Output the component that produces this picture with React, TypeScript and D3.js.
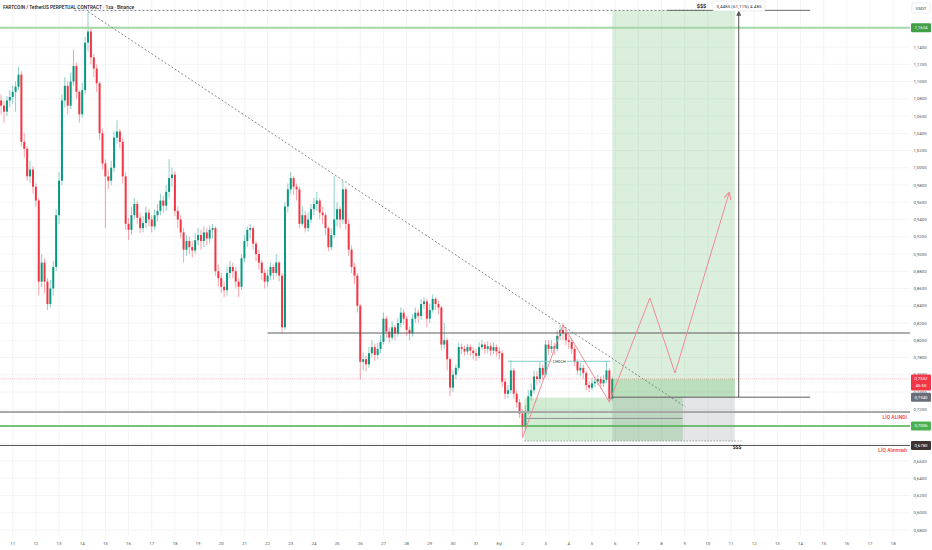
import React, { useEffect, useRef } from 'react';
import * as d3 from 'd3';

const W = 932;
const H = 550;

// 3h candles, first one centred on 10 Aug 12:00 UTC
const candleStart = Date.UTC(2025, 7, 10, 12);
const candleStep = 3 * 3600 * 1000;
const firstOpen = 1.078;

const closes = [
  1.072, 1.065, 1.078, 1.082, 1.088, 1.094, 1.108, 1.03, 1.022, 0.99,
  0.998, 0.978, 0.962, 0.868, 0.89, 0.868, 0.842, 0.86, 0.885, 0.945,
  0.985, 1.078, 1.095, 1.072, 1.1, 1.118, 1.088, 1.062, 1.09, 1.145,
  1.158, 1.128, 1.115, 1.098, 1.04, 1.005, 0.99, 0.985, 1.0, 1.035,
  1.042, 1.03, 0.99, 0.935, 0.928, 0.945, 0.958, 0.942, 0.93, 0.936,
  0.948, 0.94, 0.932, 0.945, 0.95, 0.962, 0.956, 0.972, 0.988, 0.992,
  0.95, 0.94, 0.925, 0.905, 0.915, 0.908, 0.904, 0.916, 0.922, 0.915,
  0.925, 0.918, 0.928, 0.93, 0.88, 0.872, 0.862, 0.858, 0.878, 0.885,
  0.88, 0.868, 0.862, 0.895, 0.915, 0.928, 0.93, 0.912, 0.9, 0.89,
  0.878, 0.868, 0.875, 0.885, 0.878, 0.89, 0.875, 0.815, 0.955, 0.975,
  0.988, 0.978, 0.975, 0.935, 0.945, 0.93, 0.94, 0.952, 0.958, 0.962,
  0.948, 0.945, 0.93, 0.908, 0.922, 0.94, 0.952, 0.94, 0.975, 0.935,
  0.905, 0.885, 0.875, 0.84, 0.775, 0.778, 0.772, 0.785, 0.792, 0.783,
  0.79, 0.798, 0.825, 0.81, 0.803, 0.815, 0.808, 0.82, 0.832, 0.825,
  0.812, 0.808, 0.825, 0.832, 0.828, 0.842, 0.845, 0.825, 0.835, 0.848,
  0.842, 0.838, 0.795, 0.8, 0.778, 0.745, 0.76, 0.768, 0.792, 0.79,
  0.787, 0.792, 0.788, 0.785, 0.782, 0.792, 0.795, 0.79, 0.793, 0.788,
  0.792, 0.787, 0.785, 0.752, 0.738, 0.742, 0.765, 0.738, 0.728, 0.715,
  0.7, 0.718, 0.735, 0.742, 0.758, 0.755, 0.768, 0.76, 0.795, 0.79,
  0.793, 0.79, 0.805, 0.812, 0.808, 0.8, 0.798, 0.79, 0.775, 0.765,
  0.768, 0.762, 0.748, 0.745, 0.75, 0.752, 0.755, 0.75, 0.754, 0.765,
  0.732, 0.7552,
];

const highs = [
  1.085, 1.078, 1.083, 1.09, 1.095, 1.1, 1.117, 1.112, 1.04, 1.025,
  1.008, 1.002, 0.982, 0.965, 0.9, 0.895, 0.872, 0.87, 0.892, 0.952,
  0.995, 1.085, 1.105, 1.1, 1.11, 1.137, 1.122, 1.09, 1.098, 1.152,
  1.181, 1.162, 1.132, 1.12, 1.1, 1.045, 1.01, 0.998, 1.008, 1.042,
  1.055, 1.045, 1.035, 0.995, 0.942, 0.955, 0.965, 0.962, 0.948, 0.944,
  0.955, 0.952, 0.945, 0.952, 0.958, 0.97, 0.968, 0.98, 1.01, 1.0,
  0.996, 0.955, 0.945, 0.93, 0.922, 0.92, 0.915, 0.924, 0.93, 0.928,
  0.932, 0.93, 0.933, 0.935, 0.932, 0.888, 0.878, 0.868, 0.885, 0.892,
  0.89, 0.885, 0.872, 0.9, 0.922, 0.932, 0.935, 0.932, 0.915, 0.905,
  0.893, 0.882, 0.882, 0.89, 0.888, 0.9, 0.892, 0.878, 0.96, 0.982,
  0.995, 0.99, 0.982, 0.978, 0.955, 0.95, 0.948, 0.958, 0.965, 0.972,
  0.965, 0.955, 0.948, 0.932, 0.93, 0.99, 0.96, 0.955, 0.985, 0.978,
  0.94, 0.91, 0.89, 0.878, 0.842, 0.786, 0.782, 0.792, 0.8, 0.796,
  0.797, 0.806, 0.832, 0.828, 0.815, 0.822, 0.818, 0.826, 0.838, 0.836,
  0.828, 0.816, 0.83, 0.838, 0.836, 0.848, 0.85, 0.848, 0.842, 0.853,
  0.85, 0.846, 0.84, 0.82, 0.803, 0.78, 0.765, 0.772, 0.797, 0.796,
  0.794, 0.796, 0.795, 0.792, 0.79, 0.798, 0.8, 0.798, 0.799, 0.797,
  0.798, 0.795, 0.792, 0.788, 0.756, 0.748, 0.777, 0.768, 0.742, 0.732,
  0.72, 0.725, 0.742, 0.75, 0.765, 0.764, 0.775, 0.772, 0.8, 0.8,
  0.8, 0.797, 0.811, 0.818, 0.82, 0.812, 0.805, 0.802, 0.793, 0.778,
  0.774, 0.772, 0.765, 0.752, 0.756, 0.757, 0.76, 0.758, 0.76, 0.776,
  0.768, 0.758,
];

const lows = [
  1.062, 1.052, 1.06, 1.07, 1.074, 1.065, 1.09, 1.025, 1.012, 0.985,
  0.982, 0.97, 0.955, 0.852, 0.862, 0.855, 0.835, 0.838, 0.852, 0.88,
  0.935, 0.98, 1.07, 1.062, 1.068, 1.095, 1.08, 1.052, 1.058, 1.085,
  1.135, 1.12, 1.105, 1.088, 1.032, 0.998, 0.93, 0.975, 0.98, 0.995,
  1.028, 1.022, 0.982, 0.928, 0.916, 0.922, 0.94, 0.935, 0.924, 0.925,
  0.93, 0.932, 0.925, 0.928, 0.938, 0.945, 0.948, 0.95, 0.965, 0.978,
  0.944, 0.93, 0.918, 0.89, 0.898, 0.9, 0.896, 0.9, 0.91, 0.905,
  0.908, 0.91, 0.912, 0.918, 0.875, 0.862, 0.855, 0.85, 0.852, 0.872,
  0.872, 0.86, 0.85, 0.858, 0.89, 0.908, 0.918, 0.905, 0.892, 0.882,
  0.87, 0.86, 0.862, 0.87, 0.87, 0.874, 0.868, 0.808, 0.812, 0.948,
  0.97, 0.968, 0.962, 0.93, 0.932, 0.925, 0.926, 0.936, 0.945, 0.95,
  0.94, 0.935, 0.922, 0.903, 0.904, 0.918, 0.932, 0.93, 0.935, 0.928,
  0.898, 0.878, 0.865, 0.832, 0.755, 0.765, 0.764, 0.768, 0.78, 0.776,
  0.778, 0.785, 0.795, 0.803, 0.797, 0.8, 0.8, 0.804, 0.815, 0.818,
  0.805, 0.8, 0.804, 0.82, 0.82, 0.824, 0.836, 0.815, 0.82, 0.832,
  0.835, 0.83, 0.788, 0.79, 0.765, 0.735, 0.74, 0.755, 0.765, 0.784,
  0.782, 0.783, 0.782, 0.778, 0.776, 0.779, 0.788, 0.784, 0.785, 0.782,
  0.784, 0.781, 0.778, 0.746, 0.732, 0.733, 0.738, 0.732, 0.722, 0.71,
  0.687, 0.695, 0.714, 0.73, 0.738, 0.748, 0.75, 0.754, 0.757, 0.783,
  0.785, 0.783, 0.787, 0.8, 0.8, 0.794, 0.79, 0.784, 0.77, 0.76,
  0.758, 0.755, 0.742, 0.74, 0.742, 0.745, 0.748, 0.744, 0.746, 0.75,
  0.728, 0.73,
];

const priceTicks = [
  0.58, 0.6, 0.62, 0.64, 0.66, 0.68, 0.7, 0.72, 0.74, 0.76, 0.78, 0.8, 0.82, 0.84, 0.86,
  0.88, 0.9, 0.92, 0.94, 0.96, 0.98, 1.0, 1.02, 1.04, 1.06, 1.08, 1.1, 1.12, 1.14,
];

// one label per day starting 11 Aug
const dayLabels = [
  '11', '12', '13', '14', '15', '16', '17', '18', '19', '20', '21', '22', '23', '24', '25',
  '26', '27', '28', '29', '30', '31', 'Eyl', '2', '3', '4', '5', '6', '7', '8', '9', '10',
  '11', '12', '13', '14', '15', '16', '17', '18',
];

// price levels drawn on the chart
const lastPrice = 0.7552;
const greenLevel = 1.1624;
const resistLevel = 0.8084;
const liqTakenLevel = 0.7168;
const innerLevel = 0.7094;
const liqGreenLevel = 0.7006;
const liqMissLevel = 0.678;
const chochLevel = 0.7756;

// long position tool
const entryPrice = 0.734;
const targetPrice = 1.1825;
const stopPrice = 0.6832;

const utc = (m: number, d: number, h = 0) => new Date(Date.UTC(2025, m, d, h));

const trendLine: [Date, number][] = [
  [utc(7, 14, 6), 1.181],
  [utc(8, 9, 1), 0.7226],
];

const zigzag: [Date, number][] = [
  [utc(8, 2, 0), 0.6867],
  [utc(8, 3, 18), 0.8177],
  [utc(8, 5, 18), 0.7284],
  [utc(8, 7, 12), 0.849],
  [utc(8, 8, 14), 0.762],
  [utc(8, 10, 22), 0.9707],
];

const fmt = (v: number) => d3.format('.4f')(v).replace('.', ',');

const App: React.FC = () => {
  const svgRef = useRef<SVGSVGElement>(null);

  useEffect(() => {
    if (!svgRef.current) return;
    const svg = d3.select(svgRef.current);
    svg.selectAll('*').remove();

    const font = 'Roboto, "Liberation Sans", sans-serif';
    const plotRight = 910;
    const plotBottom = 535;

    const x = d3.scaleUtc().domain([utc(7, 11), utc(8, 18)]).range([12.7, 893.2]);
    const y = d3.scaleLinear().domain([0.58, 1.14]).range([530, 47]);

    svg.append('rect').attr('width', W).attr('height', H).attr('fill', '#ffffff');

    const defs = svg.append('defs');
    defs.append('clipPath').attr('id', 'plot')
      .append('rect').attr('x', 0).attr('y', 0).attr('width', plotRight).attr('height', plotBottom);
    defs.append('marker').attr('id', 'arrowRed')
      .attr('viewBox', '0 0 8 8').attr('refX', 7).attr('refY', 4)
      .attr('markerWidth', 7).attr('markerHeight', 7).attr('markerUnits', 'userSpaceOnUse')
      .attr('orient', 'auto')
      .append('path').attr('d', 'M0,0 L8,4 L0,8').attr('fill', 'none')
      .attr('stroke', '#f28b95').attr('stroke-width', 1.2);
    defs.append('marker').attr('id', 'arrowGray')
      .attr('viewBox', '0 0 8 8').attr('refX', 7).attr('refY', 4)
      .attr('markerWidth', 5).attr('markerHeight', 5).attr('markerUnits', 'userSpaceOnUse')
      .attr('orient', 'auto')
      .append('path').attr('d', 'M0,0 L8,4 L0,8 Z').attr('fill', '#555');

    // grid
    const days = dayLabels.map((_, i) => new Date(Date.UTC(2025, 7, 11 + i)));
    const grid = svg.append('g');
    days.forEach(d => {
      grid.append('line')
        .attr('x1', x(d)).attr('x2', x(d)).attr('y1', 0).attr('y2', plotBottom)
        .attr('stroke', '#f3f4f6').attr('stroke-width', 1);
    });
    priceTicks.forEach(p => {
      grid.append('line')
        .attr('x1', 0).attr('x2', plotRight).attr('y1', y(p)).attr('y2', y(p))
        .attr('stroke', '#f3f4f6').attr('stroke-width', 1);
    });

    const plot = svg.append('g').attr('clip-path', 'url(#plot)');

    // candles
    const up = '#089981';
    const down = '#f23645';
    const candles = closes.map((c, i) => ({
      t: new Date(candleStart + i * candleStep),
      o: i === 0 ? firstOpen : closes[i - 1],
      h: highs[i],
      l: lows[i],
      c,
    }));
    const cg = plot.append('g');
    candles.forEach(k => {
      const col = k.c >= k.o ? up : down;
      const cx = x(k.t);
      cg.append('line')
        .attr('x1', cx).attr('x2', cx).attr('y1', y(k.h)).attr('y2', y(k.l))
        .attr('stroke', col).attr('stroke-opacity', 0.45).attr('stroke-width', 1);
      const top = y(Math.max(k.o, k.c));
      const hgt = Math.max(0.8, Math.abs(y(k.o) - y(k.c)));
      cg.append('rect')
        .attr('x', cx - 1).attr('width', 2).attr('y', top).attr('height', hgt)
        .attr('fill', col);
    });

    // long position boxes
    const posStart = utc(8, 5, 21);
    const posEnd = utc(8, 11, 4);
    const lineEnd = utc(8, 14, 10);
    plot.append('rect')
      .attr('x', x(posStart)).attr('width', x(posEnd) - x(posStart))
      .attr('y', y(targetPrice)).attr('height', y(entryPrice) - y(targetPrice))
      .attr('fill', 'rgba(76,175,80,0.2)');
    plot.append('rect')
      .attr('x', x(posStart)).attr('width', x(posEnd) - x(posStart))
      .attr('y', y(lastPrice)).attr('height', y(entryPrice) - y(lastPrice))
      .attr('fill', 'rgba(76,175,80,0.22)');
    plot.append('rect')
      .attr('x', x(posStart)).attr('width', x(posEnd) - x(posStart))
      .attr('y', y(entryPrice)).attr('height', y(stopPrice) - y(entryPrice))
      .attr('fill', 'rgba(120,123,134,0.2)');

    // liquidity box
    const boxStart = utc(8, 2, 2);
    const boxEnd = utc(8, 8, 22);
    plot.append('rect')
      .attr('x', x(boxStart)).attr('width', x(boxEnd) - x(boxStart))
      .attr('y', y(0.7335)).attr('height', y(0.6835) - y(0.7335))
      .attr('fill', 'rgba(76,175,80,0.25)');

    const hline = (p: number, x1: number, x2: number, color: string, w: number, dash?: string) => {
      const l = plot.append('line')
        .attr('x1', x1).attr('x2', x2).attr('y1', y(p)).attr('y2', y(p))
        .attr('stroke', color).attr('stroke-width', w);
      if (dash) l.attr('stroke-dasharray', dash);
      return l;
    };

    hline(greenLevel, 0, plotRight, '#a5d6a7', 2);
    hline(lastPrice, 0, plotRight, 'rgba(242,54,69,0.3)', 1, '1,1');
    hline(resistLevel, x(utc(7, 22)), plotRight, '#5d5d5d', 1);
    hline(liqTakenLevel, 0, plotRight, '#a8a8a8', 2);
    hline(innerLevel, x(boxStart), x(boxEnd), '#8f8f8f', 1);
    hline(liqGreenLevel, 0, plotRight, '#4caf50', 1.3);
    hline(stopPrice, x(boxStart), x(utc(8, 11, 11)), '#9a9a9a', 1, '1.5,1.5');
    hline(liqMissLevel, 0, plotRight, '#555555', 1);
    hline(entryPrice, x(posStart), x(lineEnd), '#5d5d5d', 1);
    hline(targetPrice, x(utc(7, 13, 16)), x(utc(8, 9, 23)), '#787b86', 1, '2,2');
    hline(targetPrice, x(utc(8, 8, 6)), x(lineEnd), '#6b6b6b', 1);

    // choch
    hline(chochLevel, x(utc(8, 1, 9)), x(utc(8, 5, 19)), '#80cbc4', 1);

    // vertical target arrow
    const vx = x(utc(8, 11, 8));
    plot.append('line')
      .attr('x1', vx).attr('x2', vx).attr('y1', y(entryPrice)).attr('y2', y(targetPrice) + 1)
      .attr('stroke', '#555').attr('stroke-width', 1)
      .attr('marker-end', 'url(#arrowGray)');

    // trend line
    plot.append('line')
      .attr('x1', x(trendLine[0][0])).attr('y1', y(trendLine[0][1]))
      .attr('x2', x(trendLine[1][0])).attr('y2', y(trendLine[1][1]))
      .attr('stroke', '#787b86').attr('stroke-width', 0.9).attr('stroke-dasharray', '2,2');

    // projected path
    const zz = d3.line<[Date, number]>().x(d => x(d[0])).y(d => y(d[1]));
    plot.append('path')
      .attr('d', zz(zigzag))
      .attr('fill', 'none').attr('stroke', '#f28b95').attr('stroke-width', 1)
      .attr('marker-end', 'url(#arrowRed)');

    const text = (tx: number, ty: number, s: string, size: number, color: string, anchor = 'start', weight = 'normal') =>
      svg.append('text')
        .attr('x', tx).attr('y', ty)
        .attr('font-family', font).attr('font-size', size).attr('fill', color)
        .attr('text-anchor', anchor).attr('font-weight', weight)
        .attr('dominant-baseline', 'central')
        .text(s);

    // choch label
    const chX = x(utc(8, 3, 14));
    svg.append('rect').attr('x', chX - 7.5).attr('y', y(chochLevel) - 2.5).attr('width', 15).attr('height', 5).attr('fill', '#fff');
    text(chX, y(chochLevel), 'CHOCH', 3.8, '#333', 'middle');

    // top labels
    text(701.5, 6, '$$$', 5.5, '#222', 'middle', 'bold');
    svg.append('rect').attr('x', 713).attr('y', 1).attr('width', 52).attr('height', 10)
      .attr('fill', '#fff').attr('stroke', '#e0e3eb').attr('stroke-width', 0.6).attr('rx', 1);
    text(739, 6, '0,4485 (61,11%) 4.485', 4.3, '#333', 'middle').attr('textLength', 45).attr('lengthAdjust', 'spacingAndGlyphs');
    text(737, y(liqMissLevel) + 1.5, '$$$', 5, '#222', 'middle', 'bold');

    // title
    text(3, 7, 'FARTCOIN / TetherUS PERPETUAL CONTRACT · 1sa · Binance', 5.6, '#131722', 'start', '500')
      .attr('textLength', 131).attr('lengthAdjust', 'spacingAndGlyphs');

    // liq labels
    text(907, 417, 'LİQ ALINDI', 5, '#f23645', 'end', '500');
    text(907, 450, 'LİQ Alınmadı', 5, '#f23645', 'end', '500');

    // price axis
    priceTicks.forEach(p => {
      text(913.5, y(p), fmt(p), 4.4, '#555', 'start');
    });
    svg.append('rect').attr('x', 912).attr('y', 3).attr('width', 18).attr('height', 10)
      .attr('fill', '#fff').attr('stroke', '#e0e3eb').attr('stroke-width', 0.6).attr('rx', 1);
    text(921, 8, 'USDT', 4.2, '#333', 'middle');

    const tag = (p: number, fill: string, lines: string[]) => {
      const hgt = lines.length === 1 ? 9 : 16;
      const cy = y(p) + (lines.length === 1 ? 0 : 3.5);
      svg.append('rect').attr('x', 911).attr('y', cy - hgt / 2).attr('width', 20).attr('height', hgt)
        .attr('fill', fill).attr('rx', 1);
      lines.forEach((s, i) => {
        text(921, cy - (lines.length - 1) * 3.5 + i * 7, s, 4.4, '#fff', 'middle');
      });
    };
    tag(greenLevel, '#43a047', [fmt(greenLevel)]);
    tag(entryPrice, '#6a6d78', [fmt(entryPrice)]);
    tag(lastPrice, '#f23645', [fmt(lastPrice), '46:50']);
    tag(liqGreenLevel, '#4caf50', [fmt(liqGreenLevel)]);
    tag(liqMissLevel, '#3e3232', [fmt(liqMissLevel)]);

    // time axis
    days.forEach((d, i) => {
      text(x(d), 543, dayLabels[i], 4.4, '#555', 'middle');
    });
  }, []);

  return (
    <svg ref={svgRef} width={W} height={H} style={{ position: 'absolute', left: 0, top: 0, display: 'block' }} />
  );
};

export default App;
